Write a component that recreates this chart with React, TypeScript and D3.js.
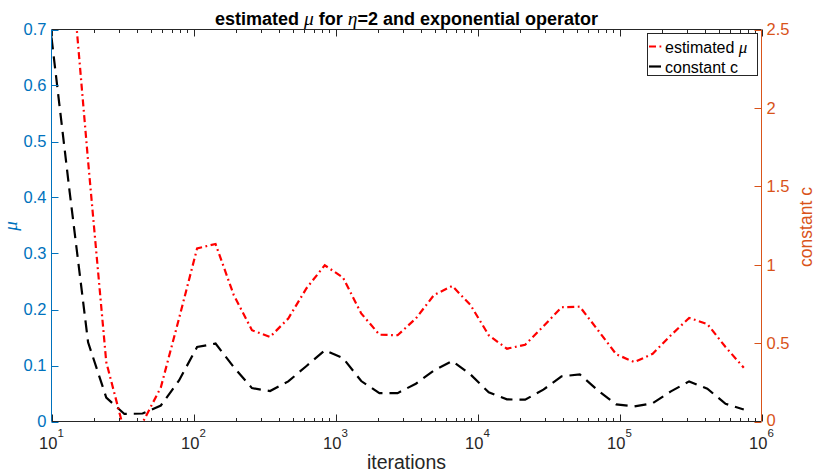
import React from "react";
import * as d3 from "d3";

const iterations = [10, 13.4, 18.1, 24.3, 32.6, 43.8, 58.9, 79.1, 106, 143, 192, 258, 346, 465, 625, 840, 1129, 1517, 2038, 2738, 3680, 4944, 6643, 8926, 11994, 16116, 21655, 29098, 39099, 52537, 70594, 94858, 127460, 171270, 230130, 309230, 415510, 558320, 750210];

const muValues = [1.25, 0.85, 0.465, 0.106, -0.018, -0.002, 0.061, 0.184, 0.309, 0.317, 0.226, 0.163, 0.151, 0.184, 0.238, 0.279, 0.257, 0.193, 0.155, 0.154, 0.184, 0.226, 0.242, 0.208, 0.154, 0.13, 0.137, 0.17, 0.204, 0.205, 0.163, 0.12, 0.106, 0.121, 0.154, 0.185, 0.174, 0.133, 0.096];

const cValues = [2.449, 1.47, 0.505, 0.153, 0.048, 0.051, 0.102, 0.262, 0.475, 0.497, 0.347, 0.213, 0.194, 0.256, 0.354, 0.454, 0.405, 0.258, 0.181, 0.181, 0.241, 0.326, 0.386, 0.3, 0.186, 0.141, 0.139, 0.203, 0.288, 0.3, 0.198, 0.109, 0.096, 0.117, 0.192, 0.256, 0.209, 0.113, 0.077];

const xDecades = [1, 2, 3, 4, 5, 6];
const muTicks = [0, 0.1, 0.2, 0.3, 0.4, 0.5, 0.6, 0.7];
const cTicks = [0, 0.5, 1, 1.5, 2, 2.5];

const L = 51.5, R = 761.5, T = 29.5, B = 421.5;
const AX = "#262626";
const BLUE = "#0072BD";
const ORANGE = "#D95319";
const SANS = "'Liberation Sans', Arial, Helvetica, sans-serif";
const SERIF = "'Liberation Serif', 'DejaVu Serif', serif";

export default function App() {
  const x = d3.scaleLog().domain([10, 1e6]).range([L, R]);
  const yL = d3.scaleLinear().domain([0, 0.7]).range([B, T]);
  const yR = d3.scaleLinear().domain([0, 2.5]).range([B, T]);

  const muLine = d3.line<number>().x((_, i) => x(iterations[i])).y((d) => yL(d));
  const cLine = d3.line<number>().x((_, i) => x(iterations[i])).y((d) => yR(d));

  const minor: number[] = [];
  for (let e = 1; e < 6; e++) for (let m = 2; m <= 9; m++) minor.push(m * Math.pow(10, e));

  return (
    <svg width={815} height={472} style={{ position: "absolute", left: 0, top: 0, background: "#fff" }}>
      <defs>
        <clipPath id="plot">
          <rect x={L} y={T} width={R - L} height={B - T} />
        </clipPath>
      </defs>
      <rect x={0} y={0} width={815} height={472} fill="#fff" />

      {/* data */}
      <g clipPath="url(#plot)" fill="none" strokeWidth={2.2}>
        <path d={cLine(cValues) || ""} stroke="#000" strokeDasharray="12,7" />
        <path d={muLine(muValues) || ""} stroke="#FF0000" strokeDasharray="7,3.5,1.8,3.5" />
      </g>

      {/* x ticks bottom and top */}
      <g stroke={AX} strokeWidth={1}>
        {xDecades.map((e) => {
          const px = Math.round(x(Math.pow(10, e))) + 0.5;
          return (
            <g key={"M" + e}>
              <line x1={px} x2={px} y1={B} y2={B - 7} />
              <line x1={px} x2={px} y1={T} y2={T + 7} />
            </g>
          );
        })}
        {minor.map((v, i) => {
          const px = Math.round(x(v)) + 0.5;
          return (
            <g key={"m" + i}>
              <line x1={px} x2={px} y1={B} y2={B - 3.5} />
              <line x1={px} x2={px} y1={T} y2={T + 3.5} />
            </g>
          );
        })}
        <line x1={L} x2={R} y1={B} y2={B} />
        <line x1={L} x2={R} y1={T} y2={T} />
      </g>

      {/* left axis */}
      <g stroke={BLUE} strokeWidth={1}>
        <line x1={L} x2={L} y1={T} y2={B} />
        {muTicks.map((t) => {
          const py = Math.round(yL(t)) + 0.5;
          return <line key={t} x1={L} x2={L + 7} y1={py} y2={py} />;
        })}
      </g>
      <g fill={BLUE} fontFamily={SANS} fontSize={16.5} textAnchor="end">
        {muTicks.map((t) => (
          <text key={t} x={46.5} y={yL(t)} dy="0.36em">{t}</text>
        ))}
      </g>
      <text transform="translate(17,226) rotate(-90)" textAnchor="middle" fill={BLUE} fontFamily={SERIF} fontStyle="italic" fontSize={19}>μ</text>

      {/* right axis */}
      <g stroke={ORANGE} strokeWidth={1}>
        <line x1={R} x2={R} y1={T} y2={B} />
        {cTicks.map((t) => {
          const py = Math.round(yR(t)) + 0.5;
          return <line key={t} x1={R} x2={R - 7} y1={py} y2={py} />;
        })}
      </g>
      <g fill={ORANGE} fontFamily={SANS} fontSize={16.5} textAnchor="start">
        {cTicks.map((t) => (
          <text key={t} x={766.5} y={yR(t)} dy={t === 0 ? "0.3em" : "0.36em"}>{t}</text>
        ))}
      </g>
      <text transform="translate(812,227) rotate(-90)" textAnchor="middle" fill={ORANGE} fontFamily={SANS} fontSize={17.5}>constant c</text>

      {/* x tick labels */}
      <g fill={AX} fontFamily={SANS} fontSize={16.5} textAnchor="middle">
        {xDecades.map((e) => (
          <text key={e} x={x(Math.pow(10, e))} y={448.5}>
            10<tspan fontSize={11.5} dy={-11.5}>{e}</tspan>
          </text>
        ))}
      </g>
      <text x={(L + R) / 2} y={469} textAnchor="middle" fill={AX} fontFamily={SANS} fontSize={19.5}>iterations</text>

      {/* title */}
      <text x={(L + R) / 2} y={25} textAnchor="middle" fill="#000" fontFamily={SANS} fontWeight="bold" fontSize={18}>
        estimated <tspan fontFamily={SERIF} fontStyle="italic" fontWeight="normal" fontSize={19.5}>μ</tspan> for <tspan fontFamily={SERIF} fontStyle="italic" fontWeight="normal" fontSize={19.5}>η</tspan>=2 and exponential operator
      </text>

      {/* legend */}
      <g>
        <rect x={647.5} y={33.5} width={110} height={42} fill="#fff" stroke={AX} strokeWidth={1} />
        <line x1={649} x2={663} y1={46.5} y2={46.5} stroke="#FF0000" strokeWidth={2.2} strokeDasharray="7,3.5,1.8,3.5" />
        <line x1={649} x2={663} y1={66.5} y2={66.5} stroke="#000" strokeWidth={2.2} strokeDasharray="12,7" />
        <text x={665} y={52.5} fill="#000" fontFamily={SANS} fontSize={16}>
          estimated <tspan fontFamily={SERIF} fontStyle="italic" fontSize={17}>μ</tspan>
        </text>
        <text x={665} y={72.5} fill="#000" fontFamily={SANS} fontSize={16}>constant c</text>
      </g>
    </svg>
  );
}
